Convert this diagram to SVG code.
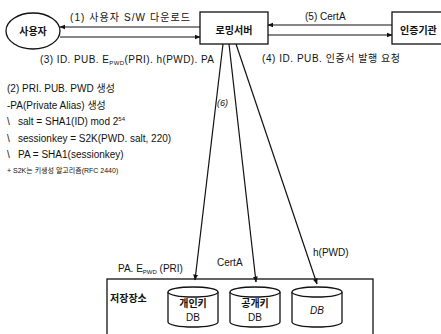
<svg xmlns="http://www.w3.org/2000/svg" width="441" height="334" viewBox="0 0 441 334">
<defs>
<style>
text{font-family:"Liberation Sans","Noto Sans CJK KR",sans-serif;font-size:10px;fill:#111}
.k{font-weight:bold}
.sm{font-size:9px}
.xs{font-size:7px}
.sub{font-size:6px}
.ln{stroke:#111;stroke-width:1.2;fill:none}
.box{stroke:#111;stroke-width:1.3;fill:#fff}
</style>
<marker id="ah" viewBox="0 0 10 10" refX="9" refY="5" markerWidth="5" markerHeight="5" orient="auto-start-reverse">
<path d="M0,1 L10,5 L0,9 z" fill="#111"/>
</marker>
</defs>
<rect width="441" height="334" fill="#fff"/>

<g id="user">
<ellipse class="box" cx="33" cy="31" rx="27" ry="18"/>
<text class="k" x="33" y="35" text-anchor="middle">사용자</text>
</g>

<g id="server">
<rect class="box" x="200" y="12" width="68" height="32"/>
<text class="k" x="234" y="34" text-anchor="middle">로밍서버</text>
</g>

<g id="ca">
<rect class="box" x="392" y="12" width="56" height="32"/>
<text class="k" x="400" y="34">인증기관</text>
</g>

<g id="storage">
<rect class="box" x="107" y="279" width="266" height="62"/>
<text class="k" x="110" y="302">저장장소</text>
<g id="db1">
<path class="box" d="M168,292 v30 a25,5 0 0 0 50,0 v-30"/>
<ellipse class="box" cx="193" cy="292" rx="25" ry="5"/>
<text class="k" x="193" y="307" text-anchor="middle">개인키</text>
<text x="193" y="321" text-anchor="middle">DB</text>
</g>
<g id="db2">
<path class="box" d="M230,292 v30 a25,5 0 0 0 50,0 v-30"/>
<ellipse class="box" cx="255" cy="292" rx="25" ry="5"/>
<text class="k" x="255" y="307" text-anchor="middle">공개키</text>
<text x="255" y="321" text-anchor="middle">DB</text>
</g>
<g id="db3">
<path class="box" d="M292,292 v30 a25,5 0 0 0 50,0 v-30"/>
<ellipse class="box" cx="317" cy="292" rx="25" ry="5"/>
<text x="317" y="314" text-anchor="middle" font-style="italic">DB</text>
</g>
</g>

<g id="connectors">
<line class="ln" x1="200" y1="27" x2="60" y2="27" marker-end="url(#ah)"/>
<line class="ln" x1="60" y1="37" x2="200" y2="37" marker-end="url(#ah)"/>
<line class="ln" x1="392" y1="25" x2="268" y2="25" marker-end="url(#ah)"/>
<line class="ln" x1="268" y1="35" x2="392" y2="35" marker-end="url(#ah)"/>
<line class="ln" x1="223" y1="44" x2="195" y2="280" marker-end="url(#ah)"/>
<line class="ln" x1="229" y1="44" x2="256" y2="282" marker-end="url(#ah)"/>
<line class="ln" x1="236" y1="44" x2="317" y2="284" marker-end="url(#ah)"/>
</g>

<g id="labels">
<text x="70" y="21" textLength="120" lengthAdjust="spacing">(1) 사용자 S/W 다운로드</text>
<text x="40" y="63" textLength="174" lengthAdjust="spacing">(3) ID. PUB. E<tspan class="sub" dy="2">PWD</tspan><tspan dy="-2">(PRI). h(PWD). PA</tspan></text>
<text x="305" y="20">(5) CertA</text>
<text x="262" y="62" textLength="138" lengthAdjust="spacing">(4) ID. PUB. 인증서 발행 요청</text>
<text x="217" y="106" font-style="italic" class="sm">(6)</text>
<text x="118" y="272">PA. E<tspan class="sub" dy="2">PWD</tspan><tspan dy="-2"> (PRI)</tspan></text>
<text x="217" y="266">CertA</text>
<text x="313" y="256">h(PWD)</text>
</g>

<g id="notes">
<text x="7" y="92">(2) PRI. PUB. PWD 생성</text>
<text x="7" y="109">-PA(Private Alias) 생성</text>
<text x="7" y="125">\</text><text x="18" y="125">salt = SHA1(ID) mod 2<tspan class="sub" dy="-4">54</tspan></text>
<text x="7" y="142">\</text><text x="18" y="142">sessionkey = S2K(PWD. salt, 220)</text>
<text x="7" y="158">\</text><text x="18" y="158">PA = SHA1(sessionkey)</text>
<text x="7" y="173" class="xs">+ S2K는 키생성 알고리즘(RFC 2440)</text>
</g>
</svg>
